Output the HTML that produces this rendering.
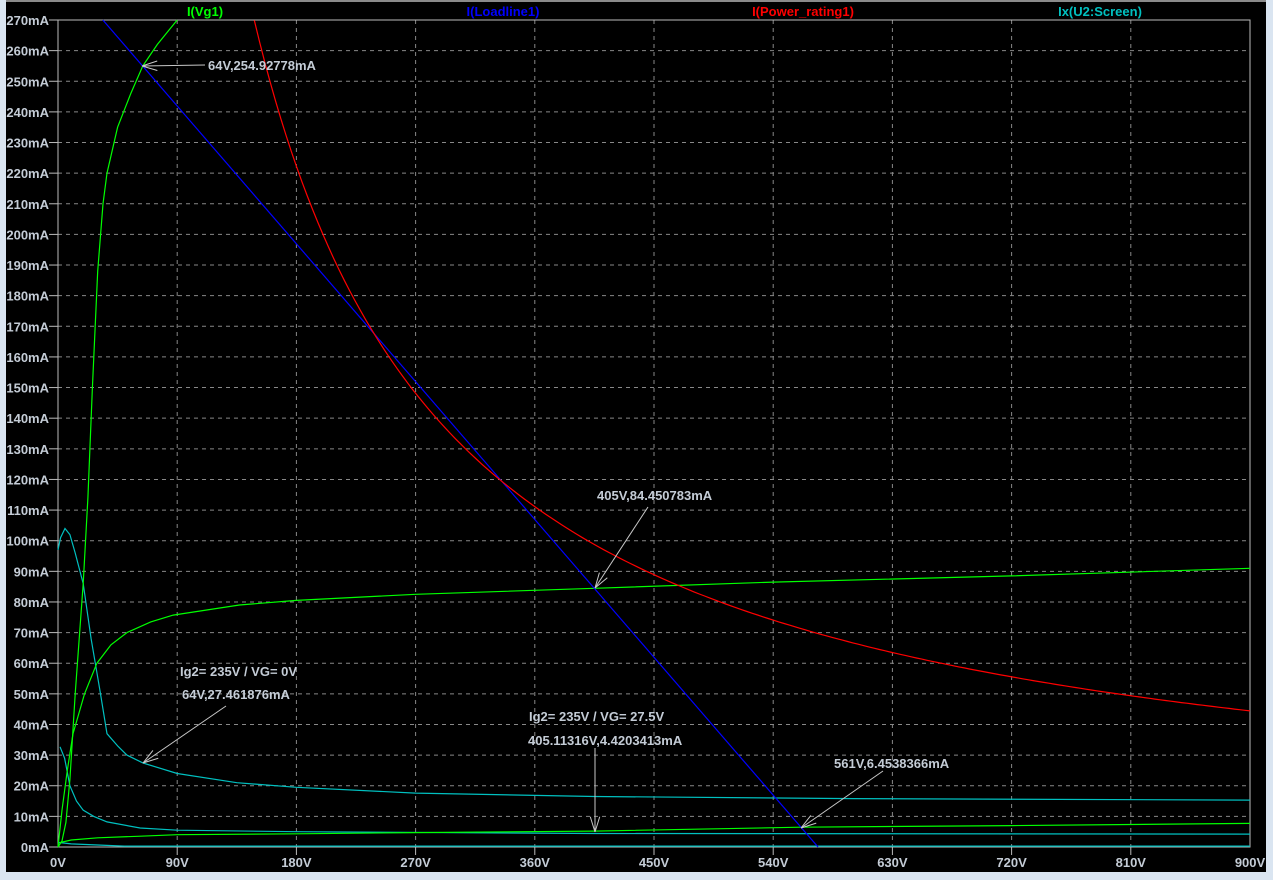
<!DOCTYPE html>
<html><head><meta charset="utf-8"><style>
html,body{margin:0;padding:0;background:#dae5f1;width:1273px;height:880px;overflow:hidden}
svg{display:block}
text{font-family:"Liberation Sans",Arial,sans-serif;font-weight:bold;font-size:13px}
</style></head><body>
<svg id="s" width="1273" height="880" xmlns="http://www.w3.org/2000/svg"></svg>
<script>
const s=document.getElementById('s');
const X=v=>58+v*1192/900, Y=m=>847-m*827/270;
let h='<rect x="6" y="0" width="1260" height="872" fill="#000"/><rect x="6" y="0" width="1260" height="2" fill="#8a8a8a"/>';
for(let i=1;i<10;i++){const x=X(i*90);h+=`<line x1="${x}" y1="20" x2="${x}" y2="847" stroke="#888" stroke-dasharray="4,4"/><line x1="${x}" y1="847" x2="${x}" y2="855" stroke="#bbb"/>`;}
for(let j=1;j<27;j++){const y=Y(j*10);h+=`<line x1="58" y1="${y}" x2="1250" y2="${y}" stroke="#888" stroke-dasharray="4,4"/>`;}
for(let j=0;j<=27;j++){const y=Y(j*10);h+=`<line x1="49" y1="${y}" x2="58" y2="${y}" stroke="#bbb"/><text x="49" y="${y+5}" text-anchor="end" fill="#c4ccd6">${j*10}mA</text>`;}
for(let i=0;i<=10;i++){const x=X(i*90);h+=`<text x="${x}" y="867" text-anchor="middle" fill="#c4ccd6">${i*90}V</text>`;}
h+='<rect x="58" y="20" width="1192" height="827" fill="none" stroke="#bbb"/>';
const pl=(pts,c)=>{h+=`<polyline fill="none" stroke="${c}" stroke-width="1.2" points="${pts.map(p=>X(p[0]).toFixed(1)+','+Y(p[1]).toFixed(1)).join(' ')}"/>`;};
pl([[0,1.5],[10,1],[50,0.3],[900,0.3]],'#00c0c0');
pl([[0,97],[2,101],[5.3,104],[9,102],[13,96],[19,86],[25,68],[31.7,51],[37,37],[45,33],[52,30],[64,27.46],[90,24],[135,21],[180,19.5],[270,17.6],[405,16.5],[600,15.8],[900,15.3]],'#00c0c0');
pl([[1.5,32.7],[5,29],[9,20],[14,15],[19,12],[27,10],[37,8.2],[62,6.2],[90,5.5],[180,5],[405,4.42],[900,4.2]],'#00c0c0');
pl([[0,0],[2,1.5],[10,2.3],[30,3],[60,3.5],[90,4],[180,4.3],[270,4.7],[405,5.2],[561,6.45],[720,7],[900,7.7]],'#00ff00');
pl([[0,0],[3,12],[7,25],[11.3,37],[20,50],[29.4,60],[40,66],[52,70],[70,73.5],[87,75.7],[137,79],[180,80.5],[270,82.5],[405,84.45],[540,86.5],[720,88.5],[900,91]],'#00ff00');
pl([[0,0],[3,2],[6,8],[9,22],[13,50],[19,86],[22.6,114],[26,150],[30,188],[34,210],[37,220],[45,235],[55,246],[64,255],[75,262],[90,270]],'#00ff00');
h+=`<line x1="${X(33.86)}" y1="${Y(270)}" x2="${X(573.86)}" y2="${Y(0)}" stroke="#0000ff" stroke-width="1.2"/>`;
let p=[];for(let v=148.2;v<=900;v+=4)p.push([v,40000/v]);p.push([900,44.44]);pl(p,'#ff0000');
const ar=(x1,y1,x2,y2)=>{const a=Math.atan2(y2-y1,x2-x1),L=16;let s2='';for(const d of[-0.3,0.3]){s2+=`<line x1="${x2}" y1="${y2}" x2="${x2-L*Math.cos(a+d)}" y2="${y2-L*Math.sin(a+d)}" stroke="#c8c8c8"/>`;}h+=`<line x1="${x1}" y1="${y1}" x2="${x2}" y2="${y2}" stroke="#c8c8c8"/>`+s2;};
ar(205,65,142,66);ar(648,507,595,588);ar(226,706,143,763);ar(595,748,595,832);ar(883,771,801,828);
const tx=(x,y,t,c='#c4ccd6')=>{h+=`<text x="${x}" y="${y}" fill="${c}">${t}</text>`;};
tx(208,70,'64V,254.92778mA');tx(597,500,'405V,84.450783mA');tx(180,676,'Ig2= 235V / VG= 0V');tx(182,699,'64V,27.461876mA');
tx(529,721,'Ig2= 235V / VG= 27.5V');tx(528,745,'405.11316V,4.4203413mA');tx(834,768,'561V,6.4538366mA');
const lg=(x,t,c)=>{h+=`<text x="${x}" y="16" text-anchor="middle" fill="${c}">${t}</text>`;};
lg(205,'I(Vg1)','#00ff00');lg(503,'I(Loadline1)','#0000ff');lg(803,'I(Power_rating1)','#ff0000');lg(1100,'Ix(U2:Screen)','#00c0c0');
s.innerHTML=h;
</script>
</body></html>
